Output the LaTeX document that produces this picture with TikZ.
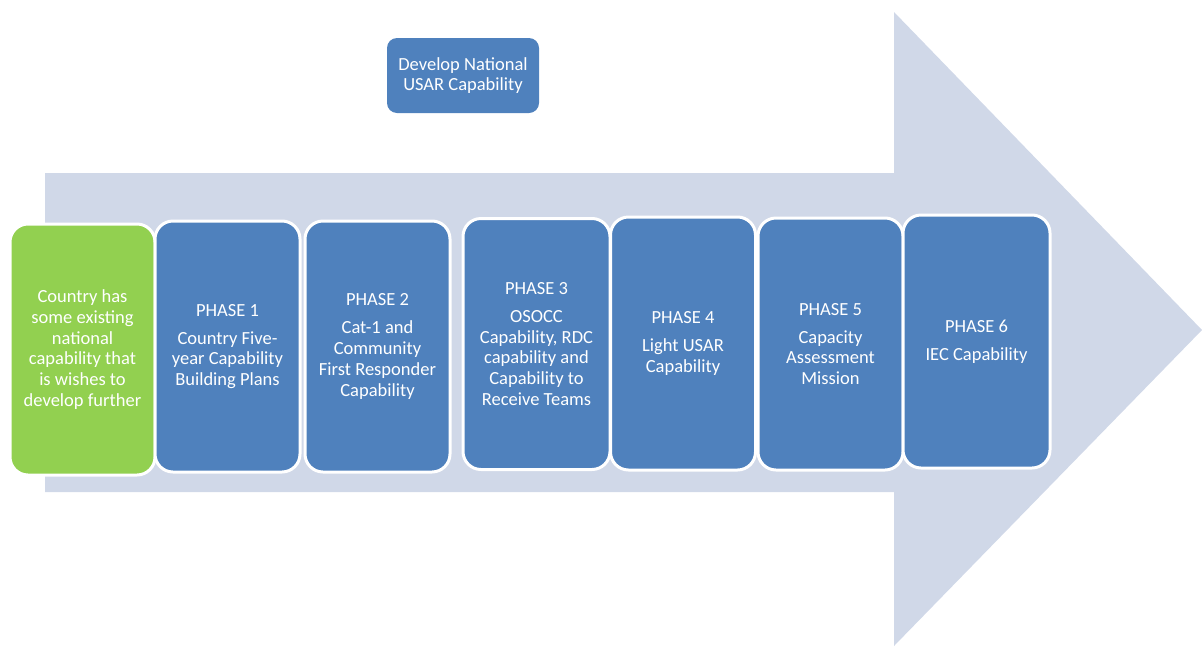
\documentclass[tikz,border=0pt]{standalone}
\usepackage{fontspec}
\setmainfont{Carlito}
\definecolor{arrowbg}{HTML}{D0D8E8}
\definecolor{phaseblue}{HTML}{4F81BD}
\definecolor{startgreen}{HTML}{92D050}
\begin{document}
\begin{tikzpicture}[x=1pt,y=-1pt,
  card/.style={rectangle, rounded corners=18pt, draw=white, line width=3pt,
    fill=phaseblue, text=white, align=center, inner sep=0pt,
    font=\fontsize{18.5}{20.8}\selectfont},
  phasebox/.style={card, minimum width=145pt, minimum height=251pt},
  greenbox/.style={phasebox, fill=startgreen},
  topbox/.style={card, draw=none, rounded corners=10pt, minimum width=152pt, minimum height=75pt}
]
\useasboundingbox (0,0) rectangle (1202,646);
% big arrow
\fill[arrowbg] (45,173) -- (894,173) -- (894,12) -- (1202,330) -- (894,646) -- (894,492) -- (45,492) -- cycle;
% top label
\node[topbox] (top) at (463,75.5) {Develop National\\USAR Capability};
% cards
\node[greenbox] (start) at (82.5,349.5) {Country has\\some existing\\national\\capability that\\is wishes to\\develop further};
\node[phasebox] (p1) at (227.5,346.5) {PHASE 1\\[7pt]Country Five-\\year Capability\\Building Plans};
\node[phasebox] (p2) at (377.5,346.5) {PHASE 2\\[7pt]Cat-1 and\\Community\\First Responder\\Capability};
\node[phasebox, minimum width=147pt] (p3) at (536.5,344) {PHASE 3\\[7pt]OSOCC\\Capability, RDC\\capability and\\Capability to\\Receive Teams};
\node[phasebox, minimum height=253pt] (p4) at (683,343.5) {PHASE 4\\[7pt]Light USAR\\Capability};
\node[phasebox, minimum height=252pt] (p5) at (830.5,344) {PHASE 5\\[7pt]Capacity\\Assessment\\Mission};
\node[phasebox, minimum width=147pt, minimum height=253pt] (p6) at (976.5,341.5) {PHASE 6\\[7pt]IEC Capability};
\end{tikzpicture}
\end{document}
